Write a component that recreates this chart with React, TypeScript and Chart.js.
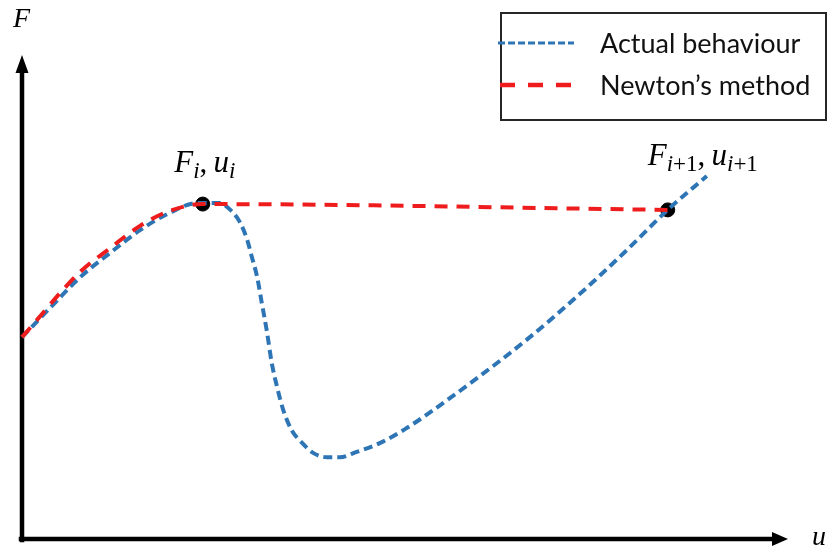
import { useEffect, useRef } from "react";
import { Chart, registerables } from "chart.js";

Chart.register(...registerables);

// Load–displacement path of the structure (u, F in arbitrary units)
const U_ACTUAL = [0, 0.43, 0.76, 1.15, 1.54, 1.93, 2.28, 2.58, 2.72, 2.85, 2.94, 3.0, 3.07, 3.13, 3.2, 3.26, 3.33, 3.41, 3.52, 3.66, 3.8, 3.98, 4.15, 4.37, 4.67, 5.0, 5.33, 5.98, 6.63, 7.28, 7.87, 8.43, 8.94];
const F_ACTUAL = [4.17, 4.88, 5.41, 5.91, 6.38, 6.74, 6.94, 6.94, 6.8, 6.53, 6.18, 5.83, 5.41, 4.88, 4.26, 3.64, 3.14, 2.67, 2.25, 1.98, 1.78, 1.69, 1.69, 1.8, 1.98, 2.27, 2.62, 3.37, 4.17, 5.06, 5.93, 6.8, 7.5];

// Newton–Raphson prediction: tangent path up to the limit point, then the jump
const U_NEWTON = [0, 0.76, 1.15, 1.54, 1.93, 2.36, 8.43];
const F_NEWTON = [4.17, 5.52, 6.01, 6.47, 6.78, 6.92, 6.8];

// Converged iterates
const U_ITER = [2.36, 8.43];
const F_ITER = [6.92, 6.8];
const ITER_LABELS = [
  [["F", "i"], ["u", "i"]],
  [["F", "i+1"], ["u", "i+1"]],
];

const LEGEND_LABELS = ["Actual behaviour", "Newton\u2019s method"];

const BLUE = "#2e75b6";
const RED = "#ee1c1c";
const MATH_FONT = "'Liberation Serif', 'DejaVu Serif', serif";
const TEXT_FONT = "Lato, 'Open Sans', sans-serif";

// Draws "A_b, C_d" style labels with italic base letters and subscripts
function drawMath(ctx: CanvasRenderingContext2D, parts: string[][], x: number, y: number, size: number, align: "left" | "center") {
  const subSize = Math.round(size * 0.74);
  const segs: { t: string; f: string; dy: number }[] = [];
  parts.forEach((p, i) => {
    if (i > 0) segs.push({ t: ",\u2009", f: `${size}px ${MATH_FONT}`, dy: 0 });
    segs.push({ t: p[0], f: `italic ${size}px ${MATH_FONT}`, dy: 0 });
    if (p[1]) {
      for (const ch of p[1]) {
        const italic = /[a-z]/.test(ch) ? "italic " : "";
        segs.push({ t: ch, f: `${italic}${subSize}px ${MATH_FONT}`, dy: size * 0.2 });
      }
    }
  });
  let total = 0;
  const widths = segs.map((s) => {
    ctx.font = s.f;
    const w = ctx.measureText(s.t).width;
    total += w;
    return w;
  });
  let cx = align === "center" ? x - total / 2 : x;
  ctx.textBaseline = "alphabetic";
  ctx.textAlign = "left";
  segs.forEach((s, i) => {
    ctx.font = s.f;
    ctx.fillText(s.t, cx, y + s.dy);
    cx += widths[i];
  });
}

const decorations = {
  id: "decorations",
  beforeDatasetsDraw(chart: Chart) {
    const { ctx, chartArea } = chart;
    const x0 = chartArea.left;
    const y0 = chartArea.bottom;
    ctx.save();
    ctx.strokeStyle = "#000";
    ctx.fillStyle = "#000";
    ctx.lineWidth = 4.5;
    ctx.lineCap = "square";
    // vertical axis
    ctx.beginPath();
    ctx.moveTo(x0, y0 + 1);
    ctx.lineTo(x0, chartArea.top + 16);
    ctx.stroke();
    ctx.beginPath();
    ctx.moveTo(x0, chartArea.top);
    ctx.lineTo(x0 - 6.5, chartArea.top + 18);
    ctx.lineTo(x0 + 6.5, chartArea.top + 18);
    ctx.closePath();
    ctx.fill();
    // horizontal axis
    ctx.beginPath();
    ctx.moveTo(x0 - 1, y0);
    ctx.lineTo(chartArea.right - 14, y0);
    ctx.stroke();
    ctx.beginPath();
    ctx.moveTo(chartArea.right, y0);
    ctx.lineTo(chartArea.right - 16, y0 - 7);
    ctx.lineTo(chartArea.right - 16, y0 + 7);
    ctx.closePath();
    ctx.fill();
    // axis names
    drawMath(ctx, [["F", ""]], x0 - 9, 27, 28, "left");
    drawMath(ctx, [["u", ""]], chartArea.right + 24, y0 + 6, 28, "left");
    ctx.restore();
  },
  afterDatasetsDraw(chart: Chart) {
    const { ctx } = chart;
    const xs = chart.scales.x;
    const ys = chart.scales.y;
    ctx.save();
    ctx.fillStyle = "#000";
    // labels of the iterates
    const p0x = xs.getPixelForValue(U_ITER[0]);
    const p0y = ys.getPixelForValue(F_ITER[0]);
    drawMath(ctx, ITER_LABELS[0], p0x + 2, p0y - 32, 31, "center");
    const p1x = xs.getPixelForValue(U_ITER[1]);
    const p1y = ys.getPixelForValue(F_ITER[1]);
    drawMath(ctx, ITER_LABELS[1], p1x - 20, p1y - 45, 31, "left");

    // legend box
    ctx.lineWidth = 2;
    ctx.strokeStyle = "#262626";
    ctx.setLineDash([]);
    ctx.fillStyle = "#fff";
    ctx.fillRect(501, 13, 325, 107);
    ctx.strokeRect(501, 13, 325, 107);
    ctx.lineCap = "butt";
    ctx.strokeStyle = BLUE;
    ctx.lineWidth = 3;
    ctx.setLineDash([7, 3]);
    ctx.beginPath();
    ctx.moveTo(498, 43);
    ctx.lineTo(574, 43);
    ctx.stroke();
    ctx.strokeStyle = RED;
    ctx.lineWidth = 4.5;
    ctx.setLineDash([15, 13]);
    ctx.beginPath();
    ctx.moveTo(500, 85);
    ctx.lineTo(574, 85);
    ctx.stroke();
    ctx.setLineDash([]);
    ctx.fillStyle = "#111";
    ctx.font = `27px ${TEXT_FONT}`;
    ctx.textAlign = "left";
    ctx.textBaseline = "alphabetic";
    ctx.fillText(LEGEND_LABELS[0], 600, 53);
    ctx.fillText(LEGEND_LABELS[1], 600, 95);
    ctx.restore();
  },
};

export default function App() {
  const ref = useRef<HTMLCanvasElement>(null);

  useEffect(() => {
    if (!ref.current) return;
    const chart = new Chart(ref.current, {
      type: "line",
      data: {
        datasets: [
          {
            label: LEGEND_LABELS[1],
            data: U_NEWTON.map((u, i) => ({ x: u, y: F_NEWTON[i] })),
            borderColor: RED,
            borderWidth: 4,
            borderDash: [13, 9],
            pointRadius: 0,
            cubicInterpolationMode: "monotone",
            clip: false,
          },
          {
            label: LEGEND_LABELS[0],
            data: U_ACTUAL.map((u, i) => ({ x: u, y: F_ACTUAL[i] })),
            borderColor: BLUE,
            borderWidth: 4,
            borderDash: [9, 5],
            pointRadius: 0,
            cubicInterpolationMode: "monotone",
            clip: false,
          },
          {
            label: "iterates",
            data: U_ITER.map((u, i) => ({ x: u, y: F_ITER[i] })),
            showLine: false,
            pointRadius: 7,
            pointBackgroundColor: "#000",
            pointBorderColor: "#000",
            pointBorderWidth: 1,
            clip: false,
          },
        ],
      },
      options: {
        animation: false,
        responsive: false,
        events: [],
        layout: { padding: { left: 22, right: 40, top: 55, bottom: 13 } },
        plugins: { legend: { display: false }, tooltip: { enabled: false } },
        scales: {
          x: { type: "linear", min: 0, max: 10, display: false },
          y: { type: "linear", min: 0, max: 10, display: false },
        },
      },
      plugins: [decorations],
    });
    return () => chart.destroy();
  }, []);

  return (
    <div style={{ position: "fixed", left: 0, top: 0, width: 828, height: 552, background: "#fff" }}>
      <canvas ref={ref} width={828} height={552} style={{ display: "block" }} />
    </div>
  );
}
